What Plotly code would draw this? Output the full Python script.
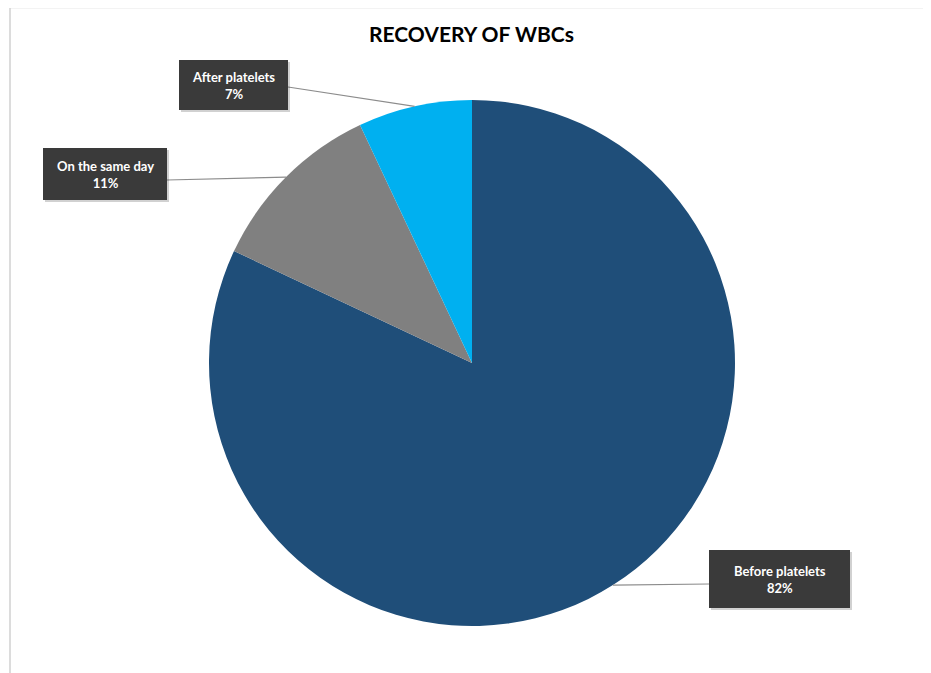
import math
import plotly.graph_objects as go

# Data
categories = ["Before platelets", "On the same day", "After platelets"]
values = [82, 11, 7]
colors = ["#1F4E79", "#808080", "#00B0F0"]
title_text = "RECOVERY OF WBCs"

# page has an 8px body margin; work in window pixel coords and shift
OFF = 8
W, H = 931 - OFF, 673 - OFF
# pie geometry in window pixels
CX, CY, R = 472, 363, 263

def px(x):
    return (x - OFF) / W

def py(y):
    return 1 - (y - OFF) / H

fig = go.Figure()
fig.add_trace(go.Pie(
    labels=categories,
    values=values,
    marker=dict(colors=colors, line=dict(width=0)),
    sort=False,
    direction="clockwise",
    rotation=0,
    textinfo="none",
    hoverinfo="label+percent",
    showlegend=False,
    domain=dict(x=[px(CX - R), px(CX + R)], y=[py(CY + R), py(CY - R)]),
))

# label boxes (center px, width, height) and line start on box edge
boxes = [
    dict(cx=779.5, cy=579, w=141, h=58, lx=709, ly=584),
    dict(cx=105, cy=174, w=124, h=52, lx=167, ly=180),
    dict(cx=233.5, cy=85, w=109, h=50, lx=288, ly=87),
]

total = sum(values)
shapes = []
annotations = []
cum = 0
for cat, v, b in zip(categories, values, boxes):
    mid = (cum + v / 2) / total * 2 * math.pi
    cum += v
    ex = CX + R * math.sin(mid)
    ey = CY - R * math.cos(mid)
    shapes.append(dict(type="line", xref="paper", yref="paper",
                       x0=px(b["lx"]), y0=py(b["ly"]), x1=px(ex), y1=py(ey),
                       line=dict(color="#8C8C8C", width=1.2)))
    # shadow
    shapes.append(dict(type="rect", xref="paper", yref="paper",
                       x0=px(b["cx"] - b["w"] / 2 + 2), x1=px(b["cx"] + b["w"] / 2 + 2),
                       y0=py(b["cy"] + b["h"] / 2 + 2), y1=py(b["cy"] - b["h"] / 2 + 2),
                       fillcolor="rgba(0,0,0,0.18)", line=dict(width=0), layer="above"))
    shapes.append(dict(type="rect", xref="paper", yref="paper",
                       x0=px(b["cx"] - b["w"] / 2), x1=px(b["cx"] + b["w"] / 2),
                       y0=py(b["cy"] + b["h"] / 2), y1=py(b["cy"] - b["h"] / 2),
                       fillcolor="#3A3A3A", line=dict(width=0), layer="above"))
    pct = round(v / total * 100)
    annotations.append(dict(
        x=px(b["cx"]), y=py(b["cy"]), xref="paper", yref="paper",
        text=f"<b>{cat}<br>{pct}%</b>", showarrow=False,
        font=dict(family="Lato, Open Sans, sans-serif", size=13, color="white"),
        align="center", xanchor="center", yanchor="middle"))

# chart border (top and left)
shapes.append(dict(type="line", xref="paper", yref="paper",
                   x0=px(10), y0=py(7.5), x1=1, y1=py(7.5),
                   line=dict(color="#D0D0D0", width=1.5)))
shapes.append(dict(type="line", xref="paper", yref="paper",
                   x0=px(10), y0=py(7.5), x1=px(10), y1=0,
                   line=dict(color="#D0D0D0", width=1.5)))

annotations.append(dict(
    x=px(472), y=py(33), xref="paper", yref="paper",
    text=f"<b>{title_text}</b>", showarrow=False,
    font=dict(family="Lato, Open Sans, sans-serif", size=21, color="black"),
    xanchor="center", yanchor="middle"))

fig.update_layout(
    width=W, height=H,
    margin=dict(l=0, r=0, t=0, b=0),
    paper_bgcolor="white",
    plot_bgcolor="white",
    shapes=shapes,
    annotations=annotations,
)

fig.write_html("out.html")
